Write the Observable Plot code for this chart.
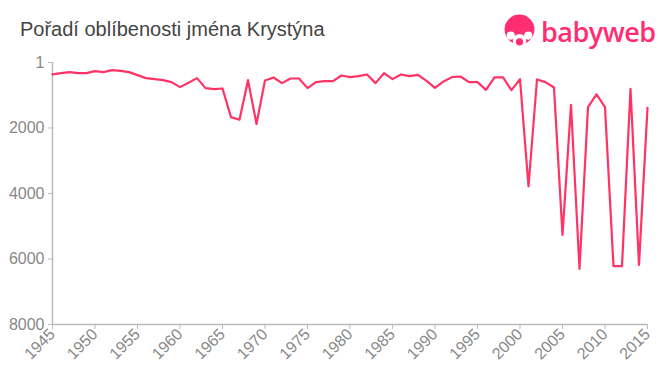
<!DOCTYPE html>
<html>
<head>
<meta charset="utf-8">
<script src="https://cdn.jsdelivr.net/npm/d3@7"></script>
<script src="https://cdn.jsdelivr.net/npm/@observablehq/plot@0.6"></script>
<style>
  html, body { margin: 0; padding: 0; background: #fff; }
  #wrap { position: relative; width: 660px; height: 375px; font-family: "Liberation Sans", Arial, sans-serif; }
  #title { position: absolute; left: 20px; top: 18px; font-size: 20px; color: #444; }
  #logo { position: absolute; left: 502px; top: 14px; display: flex; align-items: center; color: #ff2d72; }
  #logo .txt { font-family: "Open Sans", "DejaVu Sans", sans-serif; font-size: 27px; font-weight: 600; letter-spacing: -0.5px; margin-left: 4px; line-height: 1; }
  #chart { position: absolute; left: 0; top: 0; }
</style>
</head>
<body>
<div id="wrap">
  <div id="chart"></div>
  <div id="title">Pořadí oblíbenosti jména Krystýna</div>
  <div id="logo">
    <svg width="35" height="35" viewBox="0 0 34 34">
      <circle cx="17" cy="15" r="14.5" fill="#ff2d72"/>
      <circle cx="8.5" cy="21" r="4" fill="#fff"/>
      <circle cx="25.5" cy="21" r="4" fill="#fff"/>
      <circle cx="17" cy="26" r="6.5" fill="#fff"/>
      <circle cx="17" cy="27" r="3.5" fill="#ff2d72"/>
    </svg>
    <span class="txt">babyweb</span>
  </div>
</div>
<script>
const years = d3.range(1945, 2016);
const ranks = [
  366, 327, 296, 327, 327, 265, 296, 234, 255, 296,
  387, 478, 509, 540, 600, 753, 620, 478, 784, 814,
  794, 1670, 1750, 540, 1880, 550, 458, 631, 489, 489,
  784, 600, 570, 570, 397, 448, 417, 366, 631, 327,
  509, 366, 417, 377, 560, 774, 580, 448, 428, 600,
  600, 835, 458, 458, 845, 509, 3786, 519, 600, 763,
  5262, 1292, 6300, 1364, 977, 1364, 6219, 6219, 804, 6178,
  1384
];
const yTicks = [1, 2000, 4000, 6000, 8000];
const xTicks = d3.range(1945, 2016, 5);
const data = years.map((y, i) => ({year: y, rank: ranks[i]}));

const chart = Plot.plot({
  width: 660,
  height: 375,
  marginLeft: 52,
  marginRight: 13,
  marginTop: 62,
  marginBottom: 51,
  style: {fontFamily: "'Liberation Sans', Arial, sans-serif", background: "transparent"},
  x: {domain: [1945, 2015]},
  y: {domain: [1, 8000], reverse: true},
  marks: [
    Plot.ruleX([1945], {stroke: "#bbb", strokeWidth: 1.5}),
    Plot.ruleY([8000], {stroke: "#bbb", strokeWidth: 1.5}),
    Plot.axisY({ticks: yTicks, tickFormat: d => String(d), tickSize: 4, tickPadding: 4,
      fontSize: 16, color: "#888", stroke: "#bbb", label: null}),
    Plot.axisX({ticks: xTicks, tickFormat: d => String(d), tickSize: 5, tickRotate: -45,
      fontSize: 16, color: "#888", stroke: "#bbb", label: null, tickPadding: 2}),
    Plot.line(data, {x: "year", y: "rank", stroke: "#ff3366", strokeWidth: 2.2})
  ]
});
document.getElementById("chart").appendChild(chart);
</script>
</body>
</html>
